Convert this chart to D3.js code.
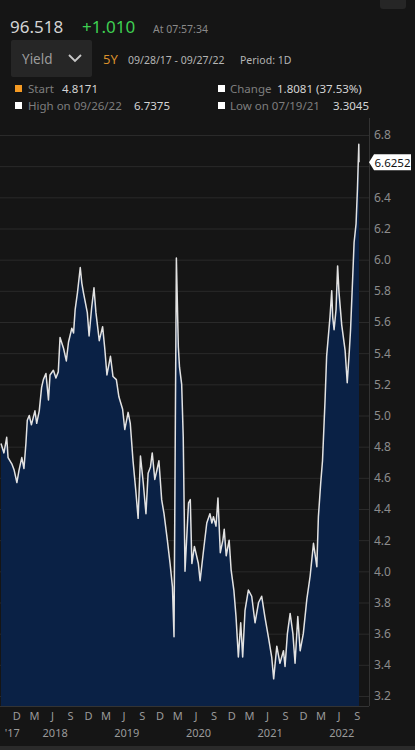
<!DOCTYPE html>
<html>
<head>
<meta charset="utf-8">
<script src="https://cdn.jsdelivr.net/npm/d3@7"></script>
<style>
  html, body { margin: 0; padding: 0; background: #151515; }
  svg { display: block; }
  text { font-family: "Noto Sans", "DejaVu Sans", sans-serif; }
</style>
</head>
<body>
<div id="app"></div>
<script>
// daily-ish closes (yield, %)
const dates = [
  '2017-09-28','2017-10-13','2017-10-27','2017-11-03','2017-11-22','2017-12-04','2017-12-18','2017-12-29',
  '2018-01-12','2018-01-23','2018-02-02','2018-02-09','2018-02-19','2018-03-02','2018-03-20','2018-03-29',
  '2018-04-11','2018-04-23','2018-05-02','2018-05-15','2018-05-28','2018-06-05','2018-06-22','2018-07-05',
  '2018-07-17','2018-07-26','2018-08-13','2018-08-27','2018-09-07','2018-09-24','2018-10-03','2018-10-11',
  '2018-10-23','2018-11-06','2018-11-14','2018-11-22','2018-12-12','2018-12-21','2019-01-03','2019-01-15',
  '2019-01-25','2019-02-11','2019-02-28','2019-03-11','2019-03-22','2019-04-09','2019-04-22','2019-05-09',
  '2019-05-22','2019-06-10','2019-06-21','2019-07-08','2019-07-19','2019-08-02','2019-08-16','2019-08-28',
  '2019-09-09','2019-09-23','2019-10-07','2019-10-18','2019-10-30','2019-11-08','2019-11-21','2019-12-02',
  '2019-12-12','2019-12-26','2020-01-07','2020-01-24','2020-02-07','2020-02-19','2020-02-27','2020-03-10',
  '2020-03-20','2020-03-26','2020-04-06','2020-04-14','2020-04-23','2020-05-11','2020-05-20','2020-05-28',
  '2020-06-10','2020-06-30','2020-07-09','2020-07-27','2020-08-12','2020-08-28','2020-09-07','2020-09-15',
  '2020-09-28','2020-10-08','2020-10-20','2020-11-02','2020-11-09','2020-11-19','2020-12-04','2020-12-14',
  '2020-12-28','2021-01-08','2021-01-20','2021-02-01','2021-02-11','2021-02-23','2021-03-12','2021-03-29',
  '2021-04-15','2021-05-03','2021-05-19','2021-06-04','2021-06-22','2021-07-09','2021-07-19','2021-08-04',
  '2021-08-20','2021-09-07','2021-09-15','2021-09-27','2021-10-11','2021-10-25','2021-11-05','2021-11-19',
  '2021-12-01','2021-12-17','2022-01-04','2022-01-21','2022-02-07','2022-02-24','2022-03-04','2022-03-16',
  '2022-03-25','2022-04-07','2022-04-15','2022-05-02','2022-05-11','2022-05-16','2022-05-23','2022-06-02',
  '2022-06-10','2022-06-17','2022-07-01','2022-07-18','2022-07-29','2022-08-08','2022-08-15','2022-08-26',
  '2022-09-02','2022-09-12','2022-09-19','2022-09-26','2022-09-27'
]
const yields = [
  4.82,4.76,4.86,4.73,4.69,4.65,4.57,4.65,
  4.73,4.66,4.82,4.97,5.00,4.94,5.03,4.95,
  5.03,5.18,5.23,5.27,5.10,5.26,5.29,5.24,
  5.28,5.50,5.43,5.35,5.47,5.56,5.53,5.68,
  5.79,5.95,5.85,5.79,5.66,5.51,5.69,5.82,
  5.66,5.48,5.57,5.43,5.26,5.38,5.25,5.23,
  5.12,5.04,4.91,5.02,4.95,4.71,4.52,4.34,
  4.74,4.57,4.37,4.63,4.67,4.76,4.59,4.65,
  4.71,4.46,4.37,4.20,4.05,3.90,3.58,6.01,
  5.44,5.31,5.20,4.86,4.00,4.44,4.46,4.05,
  4.16,4.05,3.94,4.14,4.31,4.37,4.31,4.35,
  4.29,4.47,4.12,4.20,4.27,4.10,4.20,4.01,
  3.88,3.71,3.45,3.67,3.45,3.75,3.88,3.84,
  3.67,3.80,3.84,3.71,3.58,3.45,3.31,3.52,
  3.41,3.49,3.39,3.60,3.73,3.60,3.41,3.71,
  3.49,3.60,3.82,3.97,4.18,4.03,4.35,4.57,
  4.71,5.10,5.38,5.63,5.80,5.63,5.55,5.68,
  5.96,5.79,5.58,5.42,5.21,5.40,5.55,5.89,
  6.11,6.23,6.45,6.74,6.6252
]
const yTicks = [3.2,3.4,3.6,3.8,4.0,4.2,4.4,4.6,4.8,5.0,5.2,5.4,5.6,5.8,6.0,6.2,6.4,6.6,6.8]
const yearLabels = ["'17", '2018', '2019', '2020', '2021', '2022']
const yearAt = ['2017-11-25', '2018-07-01', '2019-07-01', '2020-07-01', '2021-07-01', '2022-07-01']
const quarterMonths = [11, 2, 5, 8] // D M J S

const W = 415, H = 750
const parse = d3.timeParse('%Y-%m-%d')
const data = dates.map((d, i) => ({ date: parse(d), v: yields[i] }))

const plotRight = 369, plotBottom = 706

const x = d3.scaleTime()
  .domain([data[0].date, data[data.length - 1].date])
  .range([1, 359])
const y = d3.scaleLinear()
  .domain([3.2, 6.8])
  .range([696, 135])

const svg = d3.create('svg')
  .attr('width', W)
  .attr('height', H)
  .attr('viewBox', [0, 0, W, H])

svg.append('rect').attr('width', W).attr('height', H).attr('fill', '#151515')

// header (title row is cut off at the top)
svg.append('rect').attr('x', 380).attr('y', -10).attr('width', 26).attr('height', 19).attr('rx', 3).attr('fill', '#262626')

svg.append('text').attr('x', 10).attr('y', 33).attr('font-size', 17).attr('fill', '#d4d4d4').text('96.518')
svg.append('text').attr('x', 82).attr('y', 33).attr('font-size', 17).attr('fill', '#3fcf52').text('+1.010')
svg.append('text').attr('x', 153).attr('y', 33).attr('font-size', 10.5).attr('fill', '#8a8a8a').text('At 07:57:34')

svg.append('rect').attr('x', 11).attr('y', 40).attr('width', 81).attr('height', 37).attr('rx', 2).attr('fill', '#262626')
svg.append('text').attr('x', 22).attr('y', 64).attr('font-size', 13.5).attr('fill', '#9c9c9c').text('Yield')
svg.append('path').attr('d', 'M69,55 L75,61 L81,55').attr('fill', 'none')
  .attr('stroke', '#c8c8c8').attr('stroke-width', 1.8)
svg.append('text').attr('x', 103).attr('y', 64).attr('font-size', 13).attr('fill', '#d98f2b').text('5Y')
svg.append('text').attr('x', 128).attr('y', 64).attr('font-size', 10.5).attr('fill', '#b4b4b4').text('09/28/17 - 09/27/22')
svg.append('text').attr('x', 240).attr('y', 64).attr('font-size', 10.5).attr('fill', '#b4b4b4').text('Period: 1D')

const stats = [
  { x: 15, y: 93, sq: '#f59a23', label: 'Start', lx: 28, val: '4.8171', vx: 62 },
  { x: 15, y: 110, sq: '#ffffff', label: 'High on 09/26/22', lx: 28, val: '6.7375', vx: 134 },
  { x: 218, y: 93, sq: '#ffffff', label: 'Change', lx: 230, val: '1.8081 (37.53%)', vx: 277 },
  { x: 218, y: 110, sq: '#ffffff', label: 'Low on 07/19/21', lx: 230, val: '3.3045', vx: 333 }
]
const st = svg.append('g').selectAll('g').data(stats).join('g')
st.append('rect').attr('x', d => d.x).attr('y', d => d.y - 8).attr('width', 7).attr('height', 7).attr('fill', d => d.sq)
st.append('text').attr('x', d => d.lx).attr('y', d => d.y).attr('font-size', 11.5).attr('fill', '#7e7e7e').text(d => d.label)
st.append('text').attr('x', d => d.vx).attr('y', d => d.y).attr('font-size', 11.5).attr('fill', '#d4d4d4').text(d => d.val)

const last = data[data.length - 1]

// y axis with gridlines (the label under the last-value tag is hidden, as in the app)
const yAxis = svg.append('g')
  .attr('transform', `translate(${plotRight},0)`)
  .call(d3.axisRight(y).tickValues(yTicks).tickSize(-plotRight).tickPadding(5)
    .tickFormat(d => Math.abs(y(d) - y(last.v)) < 12 ? '' : d3.format('.1f')(d)))
yAxis.select('.domain').remove()
yAxis.selectAll('.tick line').attr('stroke', '#2a2a2a')
yAxis.selectAll('.tick text').attr('fill', '#8c8c8c').attr('font-size', 12)
  .attr('font-family', '"Noto Sans", sans-serif')

// area + line
const area = d3.area().x(d => x(d.date)).y0(plotBottom).y1(d => y(d.v))
const line = d3.line().x(d => x(d.date)).y(d => y(d.v))

svg.append('path').datum(data).attr('d', area).attr('fill', '#0a2145')
svg.append('path').datum(data).attr('d', line).attr('fill', 'none')
  .attr('stroke', '#e2e2e2').attr('stroke-width', 1.5).attr('stroke-linejoin', 'round')

// frame lines
svg.append('line').attr('x1', plotRight + 0.5).attr('x2', plotRight + 0.5).attr('y1', 118).attr('y2', plotBottom)
  .attr('stroke', '#333')
svg.append('line').attr('x1', 0).attr('x2', plotRight).attr('y1', plotBottom + 0.5).attr('y2', plotBottom + 0.5)
  .attr('stroke', '#333')

// last value tag
const ly = y(last.v)
svg.append('path')
  .attr('d', `M${plotRight},${ly} L${plotRight + 5},${ly - 8} L${plotRight + 42},${ly - 8} L${plotRight + 42},${ly + 8} L${plotRight + 5},${ly + 8} Z`)
  .attr('fill', '#ffffff')
svg.append('text').attr('x', plotRight + 5.5).attr('y', ly + 4.5).attr('font-size', 11.5).attr('fill', '#111')
  .text(d3.format('.4f')(last.v))

// x axis: quarter months at mid-month, years below
const months = d3.timeMonth.range(d3.timeMonth.ceil(data[0].date), data[data.length - 1].date)
  .filter(d => quarterMonths.includes(d.getMonth()))
  .map(d => d3.timeDay.offset(d, 14))

const xAxis = svg.append('g')
  .attr('transform', `translate(0,${plotBottom + 1})`)
  .call(d3.axisBottom(x).tickValues(months).tickSize(0).tickPadding(5)
    .tickFormat(d => d3.timeFormat('%b')(d)[0]))
xAxis.select('.domain').remove()
xAxis.selectAll('text').attr('fill', '#9a9a9a').attr('font-size', 11)
  .attr('font-family', '"DejaVu Sans Mono", monospace')

svg.append('g').selectAll('text')
  .data(yearLabels)
  .join('text')
  .attr('x', (d, i) => x(parse(yearAt[i])))
  .attr('y', 737)
  .attr('text-anchor', 'middle')
  .attr('font-size', 11)
  .attr('font-family', '"DejaVu Sans Mono", monospace')
  .attr('fill', '#9a9a9a')
  .text(d => d)

svg.append('rect').attr('x', 0).attr('y', 746).attr('width', W).attr('height', 4).attr('fill', '#2a2a2a')

d3.select('#app').append(() => svg.node())
</script>
</body>
</html>
